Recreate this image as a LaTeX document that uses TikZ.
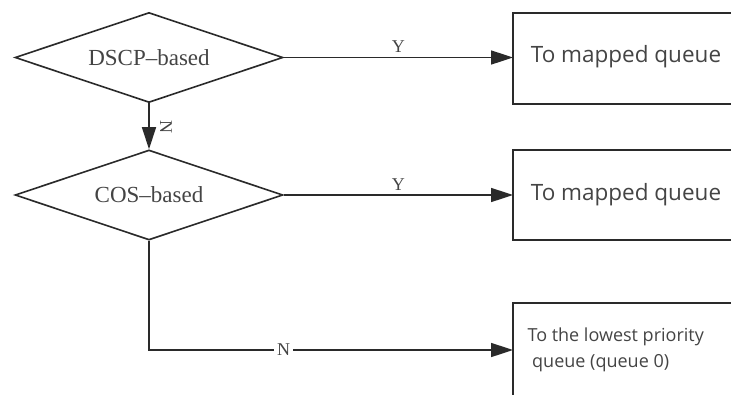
\documentclass[tikz,border=0pt]{standalone}
\usepackage{fontspec}
\setmainfont{Liberation Serif}
\newfontfamily\boxfont{Open Sans}
\usetikzlibrary{shapes.geometric,arrows.meta}
\definecolor{ink}{HTML}{2A2A2A}
\definecolor{txt}{HTML}{444444}
\begin{document}
\begin{tikzpicture}[x=1pt,y=-1pt,
  decision/.style={diamond,draw=ink,line width=1.6pt,minimum width=268pt,minimum height=90pt,aspect=2.98,inner sep=0pt,text=txt,font=\fontsize{23}{26}\selectfont},
  conn/.style={draw=ink,line width=1.6pt,-{Triangle[length=22pt,width=14pt]}},
  boxline/.style={draw=ink,line width=1.6pt},
  qtext/.style={text=txt,font=\boxfont\fontsize{22.5}{26}\selectfont},
  lab/.style={text=txt,font=\fontsize{18}{20}\selectfont,inner sep=1pt}]
\useasboundingbox (0,0) rectangle (731,394);
\node[decision] (d1) at (149,57.5) {DSCP\textendash based};
\node[decision] (d2) at (149,195) {COS\textendash based};
% boxes
\draw[boxline] (740,13) -- (513,13) -- (513,104) -- (740,104);
\draw[boxline] (740,150) -- (513,150) -- (513,240) -- (740,240);
\draw[boxline] (740,303) -- (513,303) -- (513,400);
\coordinate (b1) at (513,57.5);
\coordinate (b2) at (513,195);
\coordinate (b3) at (513,350);
\node[qtext] (t1) at (626,57) {To mapped queue};
\node[qtext] (t2) at (626,195) {To mapped queue};
\node[text=txt,font=\boxfont\fontsize{18}{26}\selectfont,align=left,anchor=west] (t3) at (524,350) {To the lowest priority\\\ queue (queue 0)};
% connectors
\draw[conn] (d1.east) -- node[lab,above=3pt] {Y} (b1);
\draw[conn] (d2.east) -- node[lab,above=3pt] {Y} (b2);
\draw[conn] (d1.south) -- (d2.north);
\node[lab,rotate=-90] (nlab) at (166,127) {N};
\coordinate (c3) at (d2.south |- b3);
\draw[conn] (d2.south) -- (c3) -- node[lab,pos=0.37,fill=white,inner sep=3pt] {N} (b3);
\end{tikzpicture}
\end{document}
